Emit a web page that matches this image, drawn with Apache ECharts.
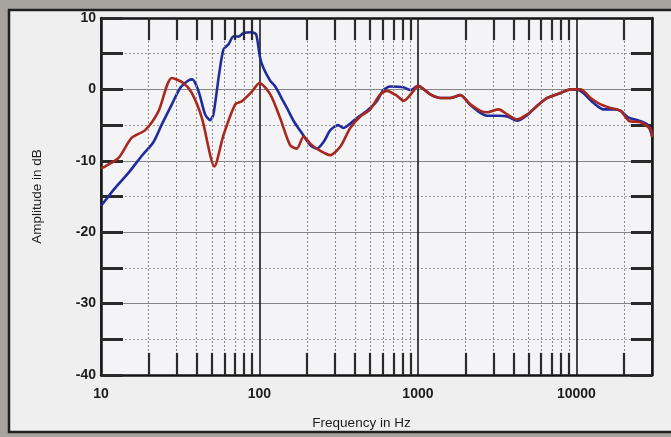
<!DOCTYPE html>
<html>
<head>
<meta charset="utf-8">
<script src="https://cdn.jsdelivr.net/npm/echarts@6/dist/echarts.min.js"></script>
<style>
html,body{margin:0;padding:0;background:#a7a39d;}
#chart{width:671px;height:437px;}
</style>
</head>
<body>
<div id="chart"></div>
<script>
// ---- data (frequency in Hz, amplitude in dB) ----
var blueFreq = [10, 10.6, 12.3, 14.9, 18.1, 21.4, 24.2, 28, 31.6, 35.6, 37.7, 41.2, 45.4, 48.8, 51.2, 55.6, 59.3, 63.7, 68.5, 73.7, 79.3, 89.5, 95.3, 101, 106, 117, 124, 129, 140, 149, 165, 181, 209, 230, 255, 280, 314, 338, 412, 477, 552, 604, 669, 809, 896, 1000, 1197, 1385, 1602, 1854, 2144, 2479, 2733, 3237, 3657, 4230, 4893, 5660, 6546, 7940, 9185, 10623, 12830, 14840, 17150, 19016, 21440, 24200, 28000, 30000];
var blueDb   = [-16.3, -15.6, -13.8, -11.7, -9.3, -7.4, -4.9, -2.1, 0.2, 1.25, 1.4, -0.2, -3.5, -4.3, -3.5, 2.1, 5.6, 6.3, 7.4, 7.4, 7.9, 8.0, 7.7, 4.4, 3.0, 1.2, 0.6, 0.0, -1.5, -2.6, -4.5, -5.8, -7.8, -8.3, -7.3, -5.7, -5.0, -5.4, -4.0, -3.0, -1.6, -0.1, 0.4, 0.3, -0.1, 0.5, -0.7, -1.2, -1.2, -0.8, -2.2, -3.3, -3.7, -3.7, -3.8, -4.4, -3.6, -2.3, -1.2, -0.5, 0, -0.2, -1.9, -2.8, -2.8, -3.0, -4.0, -4.3, -4.9, -6.5];

var redFreq = [10, 10.6, 12.9, 15.6, 19.0, 23.0, 28.0, 33.1, 37.4, 43.3, 52, 59.3, 70.3, 77, 89.6, 100, 117, 135, 156, 172, 190, 209, 230, 280, 324, 374, 433, 500, 578, 638, 738, 813, 939, 1000, 1197, 1385, 1602, 1854, 2144, 2479, 2733, 3237, 3657, 4230, 4893, 5660, 6546, 7940, 9185, 10623, 12287, 14213, 16440, 19016, 21440, 25400, 29400, 30000];
var redDb   = [-11.0, -10.8, -9.6, -6.8, -5.7, -3.1, 1.6, 0.9, -0.5, -4.0, -10.8, -6.4, -2.1, -1.7, -0.3, 0.9, -0.7, -4.0, -7.8, -8.3, -6.6, -7.6, -8.3, -9.2, -8.0, -5.4, -3.8, -2.8, -0.7, -0.2, -0.9, -1.6, -0.2, 0.5, -0.7, -1.2, -1.2, -0.8, -2.1, -3.0, -3.2, -2.8, -3.5, -4.2, -3.5, -2.3, -1.2, -0.5, 0, 0, -1.2, -2.1, -2.6, -3.0, -4.4, -4.6, -5.6, -6.7];

// axis ticks
var xMin = 10, xMax = 30000;
var yMin = -40, yMax = 10, yStep = 10;
var minorFreqs = [20, 30, 40, 50, 60, 70, 80, 90, 200, 300, 400, 500, 600, 700, 800, 900, 2000, 3000, 4000, 5000, 6000, 7000, 8000, 9000, 20000];

function pairs(xs, ys) { return xs.map(function (x, i) { return [x, ys[i]]; }); }

var tickDb = 3.1; // length of inner minor tick marks, in dB units
var minorLines = [];
minorFreqs.forEach(function (f) {
  minorLines.push([{ coord: [f, yMin], lineStyle: { color: '#8c8c8c', width: 1, type: [2, 2] } }, { coord: [f, yMax] }]);
  minorLines.push([{ coord: [f, yMin], lineStyle: { color: '#2a2a2a', width: 2.2, type: 'solid' } }, { coord: [f, yMin + tickDb] }]);
  minorLines.push([{ coord: [f, yMax], lineStyle: { color: '#2a2a2a', width: 2.2, type: 'solid' } }, { coord: [f, yMax - tickDb] }]);
});

var labelFont = { fontFamily: 'Liberation Sans', fontSize: 14, fontWeight: 'bold', color: '#1c1c1c' };

var chart = echarts.init(document.getElementById('chart'), null, { renderer: 'canvas' });
chart.setOption({
  backgroundColor: '#a7a39d',
  animation: false,
  graphic: {
    elements: [{
      type: 'rect', z: -100, silent: true,
      shape: { x: 9, y: 10, width: 700, height: 422 },
      style: { fill: '#efeff0', stroke: '#202020', lineWidth: 2.5 }
    }]
  },
  grid: { left: 101, top: 18, right: 19, bottom: 62, show: true, backgroundColor: '#f4f4f6', borderWidth: 0 },
  xAxis: [{
    type: 'log', logBase: 10, min: xMin, max: xMax, position: 'bottom',
    name: 'Frequency in Hz', nameLocation: 'middle', nameGap: 41,
    nameTextStyle: { fontFamily: 'Liberation Sans', fontSize: 13.5, color: '#1c1c1c', padding: [0, 30, 0, 0] },
    axisLine: { show: true, onZero: false, lineStyle: { color: '#151515', width: 2.5 } },
    axisTick: { show: false },
    axisLabel: Object.assign({ margin: 12, formatter: function (v) {
      var l = Math.log10(v);
      return Math.abs(l - Math.round(l)) < 1e-6 ? String(Math.round(v)) : '';
    } }, labelFont),
    splitLine: { show: true, lineStyle: { color: '#1a1a1a', width: 1.6 } }
  }, {
    type: 'log', logBase: 10, min: xMin, max: xMax, position: 'top',
    axisLine: { show: true, onZero: false, lineStyle: { color: '#151515', width: 2.5 } },
    axisTick: { show: false }, axisLabel: { show: false }, splitLine: { show: false }
  }],
  yAxis: [{
    type: 'value', min: yMin, max: yMax, interval: yStep, position: 'left',
    name: 'Amplitude in dB', nameLocation: 'middle', nameGap: 57,
    nameTextStyle: { fontFamily: 'Liberation Sans', fontSize: 13.5, color: '#1c1c1c' },
    axisLine: { show: true, onZero: false, lineStyle: { color: '#151515', width: 2.5 } },
    axisTick: { show: true, inside: true, length: 22, lineStyle: { color: '#2a2a2a', width: 3 } },
    minorTick: { show: true, splitNumber: 2, length: 22, lineStyle: { color: '#2a2a2a', width: 3 } },
    axisLabel: Object.assign({ margin: 5 }, labelFont),
    splitLine: { show: true, lineStyle: { color: '#858585', width: 1.2 } },
    minorSplitLine: { show: true, lineStyle: { color: '#9a9a9a', width: 1, type: [2, 2] } }
  }, {
    type: 'value', min: yMin, max: yMax, interval: yStep, position: 'right',
    axisLine: { show: true, onZero: false, lineStyle: { color: '#151515', width: 2.5 } },
    axisTick: { show: true, inside: true, length: 21, lineStyle: { color: '#2a2a2a', width: 3 } },
    minorTick: { show: true, splitNumber: 2, length: 21, lineStyle: { color: '#2a2a2a', width: 3 } },
    axisLabel: { show: false }, splitLine: { show: false }
  }],
  series: [{
    type: 'line', name: 'grid', data: [], z: 1, silent: true,
    markLine: { silent: true, symbol: ['none', 'none'], label: { show: false }, animation: false, data: minorLines }
  }, {
    type: 'line', name: 'blue', data: pairs(blueFreq, blueDb), z: 4,
    showSymbol: false, symbol: 'none', smooth: 0.25,
    lineStyle: { color: '#1f2b9e', width: 2.6 }
  }, {
    type: 'line', name: 'red', data: pairs(redFreq, redDb), z: 5,
    showSymbol: false, symbol: 'none', smooth: 0.25,
    lineStyle: { color: '#a8281f', width: 2.6 }
  }]
});
</script>
</body>
</html>
